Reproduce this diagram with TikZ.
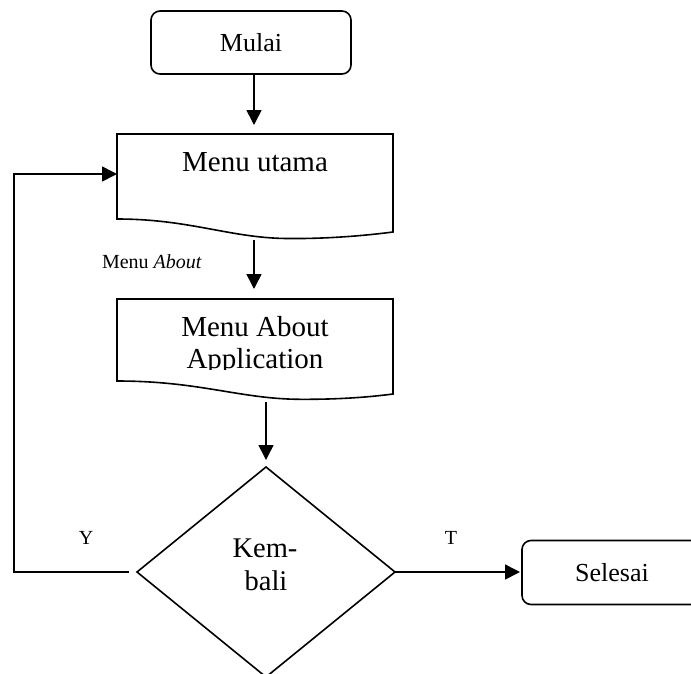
\documentclass[tikz,border=0pt]{standalone}
\usepackage{fontspec}
\setmainfont{Liberation Serif}
\usetikzlibrary{arrows.meta,shapes.geometric}

\tikzset{
  line/.style={line width=1.6pt},
  arr/.style={line, -{Triangle[length=15pt,width=15pt]}},
  terminal/.style={line, draw, rounded corners=9pt, rectangle, inner sep=0pt, outer sep=0pt},
  docarea/.style={rectangle, draw=none, inner sep=0pt, outer sep=0pt},
  decision/.style={line, draw, diamond, inner sep=0pt, outer sep=0pt},
  lbl/.style={inner sep=0pt, outer sep=0pt, anchor=base}
}

\begin{document}
\begin{tikzpicture}[x=1pt, y=-1pt]
  \useasboundingbox (0,0) rectangle (691,673);
  \clip (0,0) rectangle (691,673);

  % terminals
  \node[terminal, minimum width=200pt, minimum height=63pt, font=\fontsize{26}{30}\selectfont]
    (mulai) at (251,42.5) {Mulai};
  \node[terminal, minimum width=180pt, minimum height=64pt, font=\fontsize{26}{30}\selectfont]
    (selesai) at (612,572.5) {Selesai};

  % document shapes (area nodes, outline drawn below)
  \node[docarea, minimum width=276pt, minimum height=104pt] (utama) at (255,186) {};
  \node[docarea, minimum width=276pt, minimum height=100pt] (about) at (255,349) {};

  \draw[line] (utama.west |- 0,219) -- (utama.north west) -- (utama.north east)
    -- (utama.east |- 0,232)
    .. controls (370,235) and (330,239) .. (287,238.5)
    .. controls (230,238) and (190,219) .. cycle;
  \draw[line] (about.west |- 0,381) -- (about.north west) -- (about.north east)
    -- (about.east |- 0,394)
    .. controls (370,397) and (340,399.5) .. (300,399.3)
    .. controls (240,399) and (200,381) .. cycle;

  \node[lbl, font=\fontsize{29}{33}\selectfont] (utamaLbl) at (255,171) {Menu utama};
  \node[lbl, font=\fontsize{29}{33}\selectfont] (aboutLbl1) at (255,336) {Menu About};
  \begin{scope}
    \clip (100,340) rectangle (400,369);
    \node[lbl, font=\fontsize{29}{33}\selectfont] (aboutLbl2) at (255,368) {Application};
  \end{scope}

  % decision
  \node[decision, minimum width=258pt, minimum height=210pt] (kembali) at (266,572) {};
  \node[lbl, font=\fontsize{28.5}{33}\selectfont] (kemLbl) at (265,557) {Kem-};
  \node[lbl, font=\fontsize{28.5}{33}\selectfont] (baliLbl) at (266,590) {bali};

  % connectors
  \draw[arr, shorten >=9pt] ([xshift=3pt]mulai.south) -- ([xshift=3pt]mulai.south |- utama.north);
  \draw[arr, shorten <=2pt, shorten >=10pt] ([xshift=-1pt]utama.south) -- ([xshift=-1pt]utama.south |- about.north);
  \draw[arr, shorten <=3pt, shorten >=7pt] (about.south -| kembali.north) -- (kembali.north);

  \coordinate (loop) at (14,0);
  \draw[arr, shorten <=8pt] (kembali.west) -- (kembali.west -| loop) |- ([yshift=12pt]utama.west);
  \draw[arr, shorten >=2pt] (kembali.east) -- (kembali.east -| selesai.west);

  % labels
  \node[lbl, anchor=base west, font=\fontsize{20}{24}\selectfont] (aboutEdge) at (102,268) {Menu \textit{About}};
  \node[font=\fontsize{20}{24}\selectfont, inner sep=0pt] (yLbl) at (86,538) {Y};
  \node[font=\fontsize{20}{24}\selectfont, inner sep=0pt] (tLbl) at (451,538) {T};
\end{tikzpicture}
\end{document}
